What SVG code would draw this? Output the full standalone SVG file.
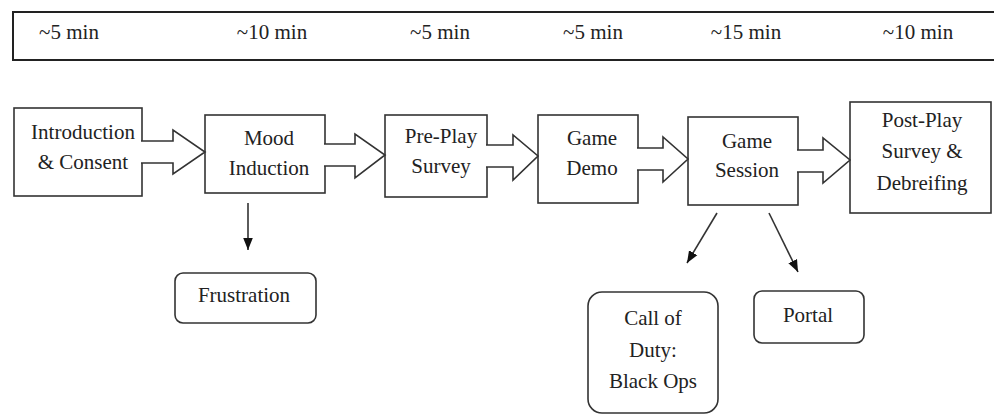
<svg xmlns="http://www.w3.org/2000/svg" width="994" height="415" viewBox="0 0 994 415">
<defs>
<style>
text{font-family:'Liberation Serif','DejaVu Serif','Noto Serif',serif;font-size:21px;fill:#222;text-anchor:middle}
.box{fill:#fff;stroke:#333;stroke-width:1.6}
.blk{fill:#fff;stroke:#333;stroke-width:1.6;stroke-linejoin:miter}
.ln{fill:none;stroke:#333;stroke-width:1.6}
</style>
<marker id="ah2" viewBox="0 0 10 10" refX="10" refY="5" markerWidth="12" markerHeight="12" orient="auto" markerUnits="userSpaceOnUse">
<path d="M0,1 L10,5 L0,9 Z" fill="#111"/>
</marker>
</defs>
<rect width="994" height="415" fill="#fff"/>

<g id="timeline" font-family="Liberation Serif, serif">
<rect x="13" y="12" width="985" height="48" fill="#fff" stroke="#222" stroke-width="2"/>
<text x="69" y="39">~5 min</text>
<text x="272" y="39">~10 min</text>
<text x="440" y="39">~5 min</text>
<text x="593" y="39">~5 min</text>
<text x="746" y="39">~15 min</text>
<text x="918" y="39">~10 min</text>
</g>

<g id="intro">
<rect class="box" x="14" y="108" width="128" height="88"/>
<text x="83" y="139">Introduction</text>
<text x="83" y="169">&amp; Consent</text>
</g>
<g id="mood">
<rect class="box" x="205" y="115" width="120" height="78"/>
<text x="269" y="145">Mood</text>
<text x="269" y="175">Induction</text>
</g>
<g id="preplay">
<rect class="box" x="385" y="115" width="102" height="82"/>
<text x="441" y="143">Pre-Play</text>
<text x="441" y="173">Survey</text>
</g>
<g id="demo">
<rect class="box" x="538" y="115" width="100" height="88"/>
<text x="592" y="145">Game</text>
<text x="592" y="175">Demo</text>
</g>
<g id="session">
<rect class="box" x="688" y="117" width="110" height="88"/>
<text x="747" y="148">Game</text>
<text x="747" y="177">Session</text>
</g>
<g id="postplay">
<rect class="box" x="850" y="102" width="141" height="111"/>
<text x="922" y="127">Post-Play</text>
<text x="922" y="158">Survey &amp;</text>
<text x="922" y="190">Debreifing</text>
</g>
<g id="frustration">
<rect class="box" x="175" y="273" width="141" height="50" rx="8"/>
<text x="244" y="302">Frustration</text>
</g>
<g id="cod">
<rect class="box" x="588" y="292" width="130" height="121" rx="14"/>
<text x="653" y="325">Call of</text>
<text x="653" y="357">Duty:</text>
<text x="653" y="388">Black Ops</text>
</g>
<g id="portal">
<rect class="box" x="754" y="291" width="110" height="52" rx="8"/>
<text x="808" y="322">Portal</text>
</g>

<g id="connectors">
<path class="blk" d="M141,141 H173 V130 L205,152 L173,174 V163 H141"/>
<path class="blk" d="M324,144 H355 V134 L385,155 L355,178 V166 H324"/>
<path class="blk" d="M486,145 H513 V135 L538,156 L513,180 V167 H486"/>
<path class="blk" d="M637,148 H663 V137 L688,159 L663,182 V170 H637"/>
<path class="blk" d="M797,150 H823 V138 L850,160 L823,183 V172 H797"/>
<line class="ln" x1="248" y1="203" x2="248" y2="250" marker-end="url(#ah2)"/>
<line class="ln" x1="717" y1="213" x2="687" y2="263" marker-end="url(#ah2)"/>
<line class="ln" x1="769" y1="213" x2="798" y2="272" marker-end="url(#ah2)"/>
</g>
</svg>
